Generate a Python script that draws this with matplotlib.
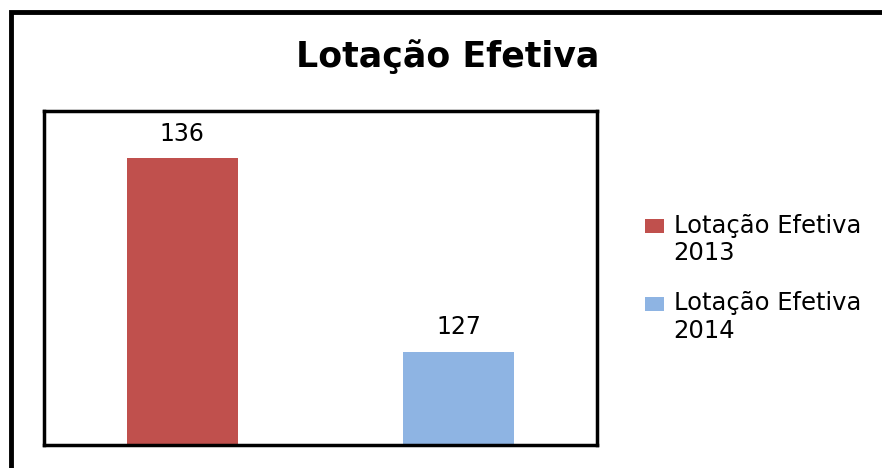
import matplotlib.pyplot as plt
from matplotlib.patches import Rectangle
from matplotlib.legend_handler import HandlerPatch

categories = ['Lotação Efetiva\n2013', 'Lotação Efetiva\n2014']
values = [136, 127]
colors = ['#C0504D', '#8EB4E3']

fig = plt.figure(figsize=(8.82, 4.68), dpi=100)

# outer chart border (runs off right/bottom edge like in the screenshot)
fig.patches.append(Rectangle((10.5 / 882, -0.1), 1.0, (468 - 12) / 468 + 0.1,
                             transform=fig.transFigure, fill=False,
                             edgecolor='black', linewidth=3.5))

ax = fig.add_axes([44 / 882, (468 - 445) / 468, (597 - 44) / 882, (445 - 111) / 468])
bars = ax.bar(range(len(values)), values, width=0.4, color=colors, label=categories)
ax.set_xlim(-0.5, 1.5)
ax.set_ylim(122.65, 138.2)
ax.set_xticks([])
ax.set_yticks([])
for s in ax.spines.values():
    s.set_linewidth(2.5)
    s.set_color('black')

for b, v in zip(bars, values):
    ax.text(b.get_x() + b.get_width() / 2, v + 1.15, str(v), ha='center', va='center',
            fontsize=17)

fig.text(448 / 882, 1 - 67 / 468, 'Lotação Efetiva', ha='center', va='baseline',
         fontsize=25, fontweight='bold')


# square marker sitting on the first text line
def square(legend, orig_handle, xdescent, ydescent, width, height, fontsize):
    return Rectangle((-xdescent, -ydescent + 11), 13.5, 10)


leg = fig.legend(handles=bars, labels=categories, loc='upper left',
                 bbox_to_anchor=(645 / 882, 1 - 214 / 468), frameon=False,
                 fontsize=17.5, handlelength=0.78, handleheight=0.6, handletextpad=0.4,
                 labelspacing=1.07, borderpad=0, borderaxespad=0,
                 handler_map={Rectangle: HandlerPatch(patch_func=square)})
for t in leg.get_texts():
    t.set_linespacing(1.18)

fig.savefig('out.png', dpi=100)
